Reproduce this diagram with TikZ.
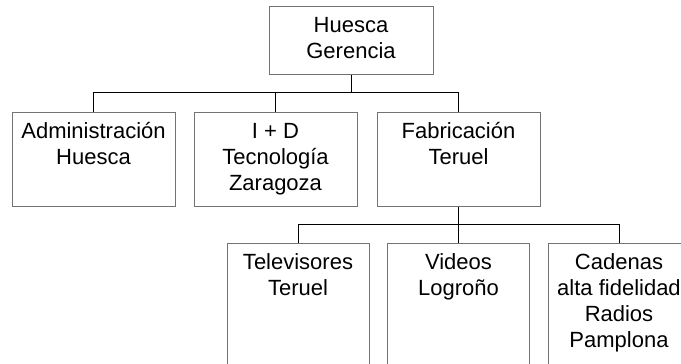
\documentclass[tikz,border=0pt]{standalone}
\usepackage{fontspec}
\setmainfont{Liberation Sans}
\newcommand\firstln{\rule{0pt}{18pt}}
\begin{document}
\begin{tikzpicture}[x=1pt,y=-1pt,
  box/.style={draw=black!55, line width=1pt, fill=white, rectangle, inner sep=0pt},
  toprow/.style={box, minimum width=164pt, minimum height=68pt},
  midrow/.style={box, minimum width=163pt, minimum height=94pt},
  lowrow/.style={box, minimum width=142pt, minimum height=157pt},
  txt/.style={font=\fontsize{22}{26}\selectfont, align=center, inner sep=0pt, anchor=north},
  conn/.style={draw=black, line width=1pt}]
\useasboundingbox (0,0) rectangle (681,364);
\clip (0,0) rectangle (681,364);
\fill[white] (0,0) rectangle (681,364);
% boxes
\node[toprow] (top) at (351,40) {};
\node[midrow] (adm) at (93.5,159) {};
\node[midrow] (idd) at (275.5,159) {};
\node[midrow] (fab) at (458.5,159) {};
\node[lowrow] (tel) at (298,321.5) {};
\node[lowrow] (vid) at (458.5,321.5) {};
\node[lowrow] (cad) at (619,321.5) {};
% texts
\node[txt] (ttop) at ([yshift=-9pt]top.north) {\firstln Huesca\\Gerencia};
\node[txt] (tadm) at ([yshift=-9pt]adm.north) {\firstln Administración\\Huesca};
\node[txt] (tidd) at ([yshift=-9pt]idd.north) {\firstln I + D\\Tecnología\\Zaragoza};
\node[txt] (tfab) at ([yshift=-9pt]fab.north) {\firstln Fabricación\\Teruel};
\node[txt] (ttel) at ([yshift=-9pt]tel.north) {\firstln Televisores\\Teruel};
\node[txt] (tvid) at ([yshift=-9pt]vid.north) {\firstln Videos\\Logroño};
\node[txt] (tcad) at ([yshift=-9pt]cad.north) {\firstln Cadenas\\alta fidelidad\\Radios\\Pamplona};
% buses
\coordinate (b1) at (351,92.5);
\coordinate (b2) at (458.5,224);
\draw[conn] (top.south) -- (top.south |- b1);
\draw[conn] (adm.north) |- (fab.north |- b1) -- (fab.north);
\draw[conn] (idd.north) -- (idd.north |- b1);
\draw[conn] (tel.north) |- (cad.north |- b2) -- (cad.north);
\draw[conn] (fab.south) -- (vid.north);
\end{tikzpicture}
\end{document}
